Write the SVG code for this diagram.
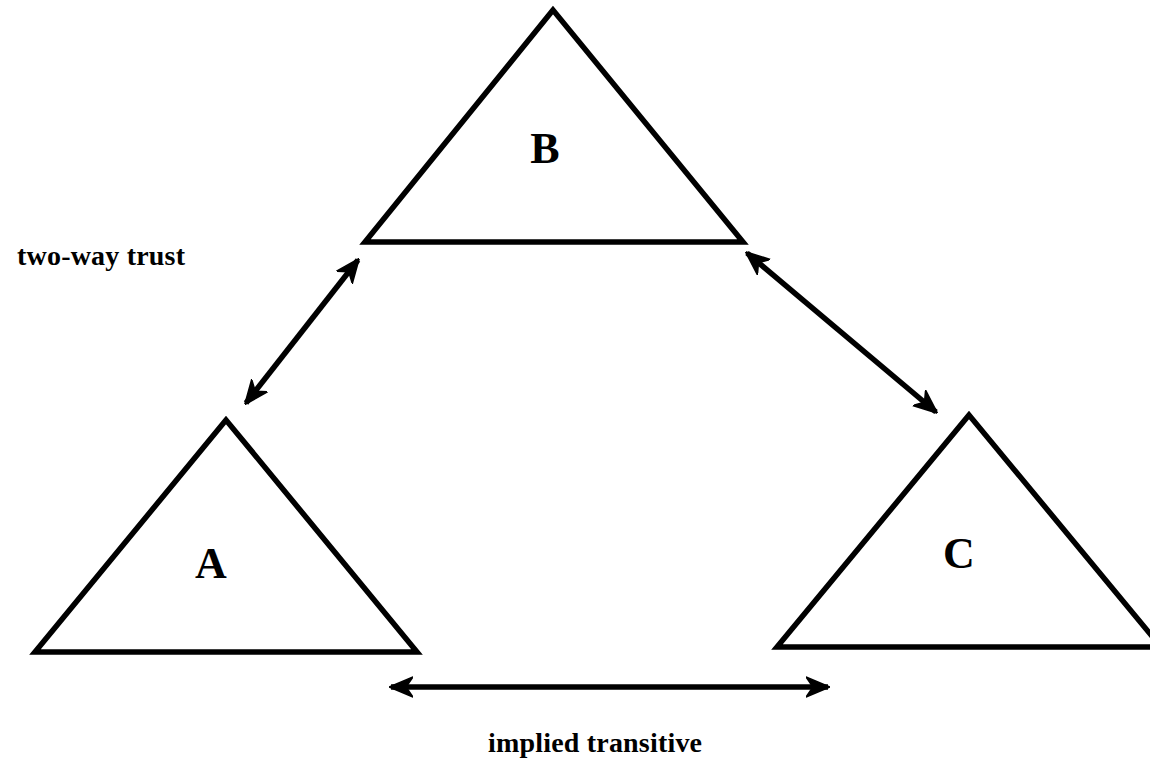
<svg xmlns="http://www.w3.org/2000/svg" width="1150" height="758" viewBox="0 0 1150 758">
  <style>
    .tri { fill: none; stroke: #000; stroke-width: 5.5; stroke-linejoin: miter; }
    .conn { stroke: #000; stroke-width: 5.5; fill: none; stroke-linecap: butt; }
    .lbl { font-family: "Liberation Serif", "Times New Roman", serif; font-weight: bold; fill: #000; }
    .big { font-size: 44px; text-anchor: middle; }
    .small { font-size: 28px; }
  </style>
  <defs>
    <marker id="ah" viewBox="0 0 24 22" markerWidth="24" markerHeight="22" refX="22" refY="11" markerUnits="userSpaceOnUse" orient="auto-start-reverse">
      <path d="M0,1 L24,11 L0,21 L7,11 z" fill="#000" stroke="#000" stroke-width="1.5" stroke-linejoin="round"/>
    </marker>
  </defs>
  <rect width="1150" height="758" fill="#fff"/>
  <g id="nodeB">
    <polygon class="tri" points="553,10 365,242 743,242"/>
    <text class="lbl big" x="545" y="163">B</text>
  </g>
  <g id="nodeA">
    <polygon class="tri" points="226,420 35,652 417,652"/>
    <text class="lbl big" x="211" y="578">A</text>
  </g>
  <g id="nodeC">
    <polygon class="tri" points="969,415 777,647 1161,647"/>
    <text class="lbl big" x="959" y="568">C</text>
  </g>
  <g id="connectors">
    <line class="conn" x1="246" y1="403" x2="358" y2="260" marker-start="url(#ah)" marker-end="url(#ah)"/>
    <line class="conn" x1="747" y1="253" x2="936" y2="412" marker-start="url(#ah)" marker-end="url(#ah)"/>
    <line class="conn" x1="391" y1="687" x2="828" y2="687" marker-start="url(#ah)" marker-end="url(#ah)"/>
  </g>
  <text class="lbl small" x="17" y="265" textLength="168">two-way trust</text>
  <text class="lbl small" x="488" y="752" textLength="214">implied transitive</text>
</svg>
